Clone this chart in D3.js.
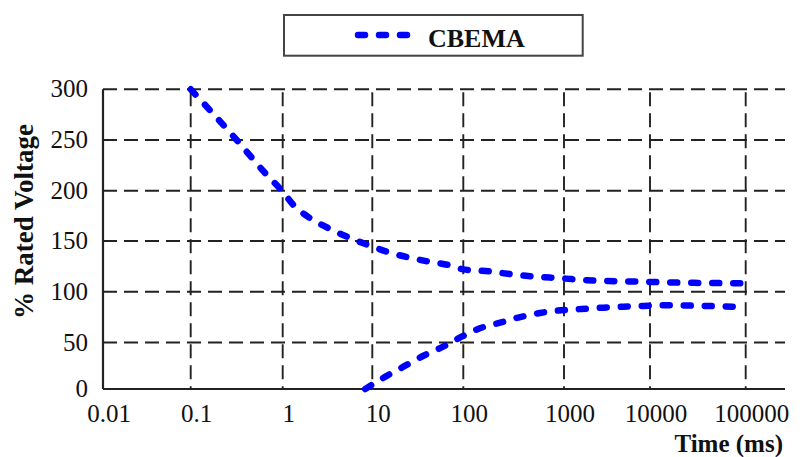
<html lang="en">
<head>
<style>
body { margin: 0; background: #fff; }
text { font-family: "Liberation Serif", "Times New Roman", serif; fill: #111; }
</style>
</head>
<body>
</body>
<script type='text/javascript' src='https://d3js.org/d3.v7.min.js'></script>
<script>
var width = 807, height = 457;

// CBEMA curve (time in ms, % rated voltage)
const upperTime = [0.1, 0.316, 0.65, 1, 1.31, 2, 3.2, 4.7, 9, 14.4, 40, 71, 100, 184, 308, 1000, 2190, 7000, 19000, 100000];
const upperVolt = [300, 250, 217, 199, 186, 173, 163, 156, 146, 139.5, 130, 126, 122, 120, 117, 113, 111, 110, 109, 108.3];
const lowerTime = [8.33, 13.8, 22, 36, 60, 96, 146, 232, 366, 577, 1000, 1600, 2860, 4900, 8400, 14300, 39000, 100000];
const lowerVolt = [0, 13, 24, 35.5, 45.5, 55.7, 64, 69.5, 75, 79, 82, 83, 84.3, 85.3, 86, 86.6, 86, 84.7];

const xTicks = [0.01, 0.1, 1, 10, 100, 1000, 10000, 100000];
const xTickLabels = ['0.01', '0.1', '1', '10', '100', '1000', '10000', '100000'];
const yTicks = [0, 50, 100, 150, 200, 250, 300];
const seriesName = 'CBEMA';

var svg = d3.select('body').append('svg').attr('width', width).attr('height', height);

// grid in the original is a little uneven, so the scales are piecewise
var x = d3.scaleLog()
  .domain([0.01, 0.1, 1, 10, 100, 1000, 10000, 100000, 268000])
  .range([103, 190.7, 282.7, 372.3, 463.3, 564, 650, 745.7, 785]);
var y = d3.scaleLinear()
  .domain(yTicks)
  .range([389, 342.5, 291.7, 241, 190.7, 140, 89.3]);

var x0 = x(0.01), x1 = x.range()[x.range().length - 1];

// horizontal grid
svg.append('g').selectAll('line')
  .data(yTicks.filter(function(d) { return d > 0; }))
  .join('line')
  .attr('x1', x0).attr('x2', x1)
  .attr('y1', function(d) { return y(d); })
  .attr('y2', function(d) { return y(d); })
  .attr('stroke', '#222').attr('stroke-width', 1.9)
  .attr('stroke-dasharray', '14,7');

// vertical grid
svg.append('g').selectAll('line')
  .data(xTicks.slice(1))
  .join('line')
  .attr('x1', function(d) { return x(d); })
  .attr('x2', function(d) { return x(d); })
  .attr('y1', y(300) + 3).attr('y2', y(0))
  .attr('stroke', '#222').attr('stroke-width', 1.9)
  .attr('stroke-dasharray', '14,7');

// axes lines
svg.append('line').attr('x1', x0).attr('x2', x0).attr('y1', y(300)).attr('y2', y(0))
  .attr('stroke', '#222').attr('stroke-width', 2.2);
svg.append('line').attr('x1', x0).attr('x2', x1).attr('y1', y(0)).attr('y2', y(0))
  .attr('stroke', '#222').attr('stroke-width', 2.2);

// tick labels
svg.append('g').selectAll('text')
  .data(yTicks)
  .join('text')
  .attr('x', 88)
  .attr('y', function(d) { return y(d) + 8; })
  .attr('text-anchor', 'end')
  .style('font-size', '25px')
  .text(function(d) { return d; });

svg.append('g').selectAll('text')
  .data(xTicks)
  .join('text')
  .attr('x', function(d) { return x(d) + 6; })
  .attr('y', 422)
  .attr('text-anchor', 'middle')
  .style('font-size', '25px')
  .text(function(d, i) { return xTickLabels[i]; });

// axis titles
svg.append('text')
  .attr('x', 783).attr('y', 452)
  .attr('text-anchor', 'end')
  .style('font-size', '25px').style('font-weight', 'bold')
  .text('Time (ms)');
svg.append('text')
  .attr('transform', 'translate(33,221.5) rotate(-90)')
  .attr('text-anchor', 'middle')
  .style('font-size', '27px').style('font-weight', 'bold')
  .text('% Rated Voltage');

// curves
var line = d3.line()
  .x(function(d) { return x(d[0]); })
  .y(function(d) { return y(d[1]); })
  .curve(d3.curveMonotoneX);

function drawCurve(ts, vs) {
  svg.append('path')
    .datum(d3.zip(ts, vs))
    .attr('d', line)
    .attr('fill', 'none')
    .attr('stroke', '#0000ff')
    .attr('stroke-width', 6.5)
    .attr('stroke-linecap', 'round')
    .attr('stroke-dasharray', '7,14');
}
drawCurve(upperTime, upperVolt);
drawCurve(lowerTime, lowerVolt);

// legend
var lg = svg.append('g');
lg.append('rect')
  .attr('x', 284).attr('y', 15).attr('width', 298.7).attr('height', 40.7)
  .attr('fill', '#fff').attr('stroke', '#444').attr('stroke-width', 2);
lg.append('line')
  .attr('x1', 358).attr('x2', 410).attr('y1', 35).attr('y2', 35)
  .attr('stroke', '#0000ff').attr('stroke-width', 6.5)
  .attr('stroke-linecap', 'round').attr('stroke-dasharray', '7,14');
lg.append('text')
  .attr('x', 428).attr('y', 46.5)
  .style('font-size', '26px').style('font-weight', 'bold')
  .text(seriesName);

console.log('ready..');
</script>
</html>
